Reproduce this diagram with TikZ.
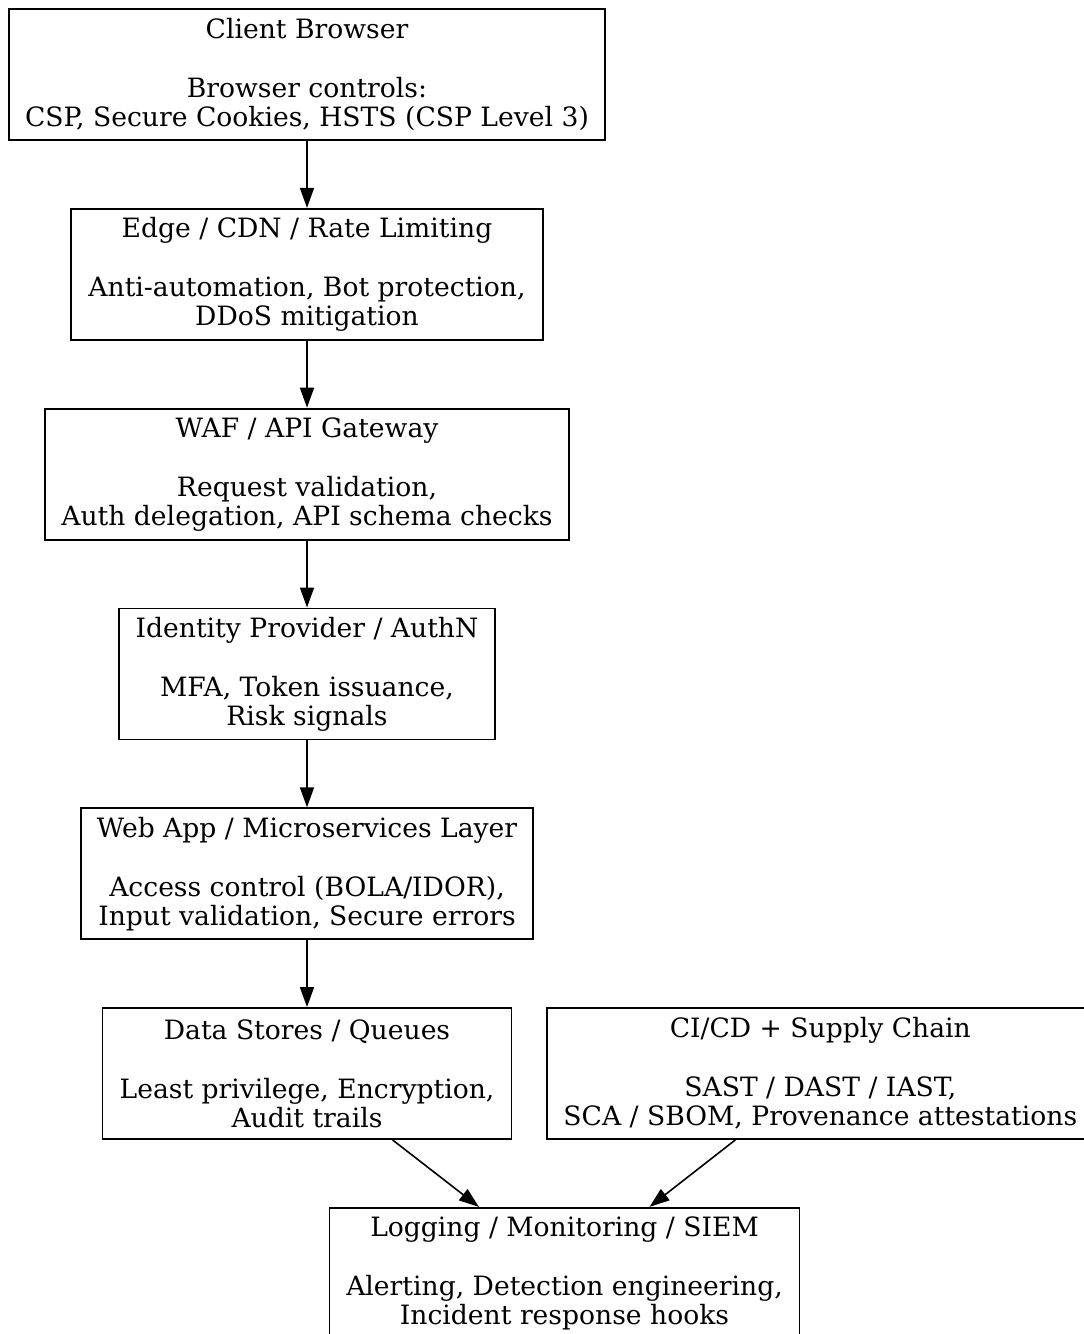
\documentclass[tikz,border=0pt]{standalone}
\usepackage{fontspec}
\setmainfont{DejaVu Serif}
\usetikzlibrary{positioning,arrows.meta}

\begin{document}
\begin{tikzpicture}[
% first : the style of the scheme
    box/.style={
        rectangle,
        draw,
        line width=1.8pt,
        align=center,
        inner ysep=0pt,
        font=\fontsize{26.6}{29}\selectfont,
        minimum height=131pt
    },
    link/.style={->, line width=1.6pt},
    >={Triangle[length=20pt,width=14pt]},
    node distance=67pt
]
\useasboundingbox (0,0) rectangle (1084pt,-1334pt);

% layers + text
\node[box, minimum width=596pt] (client) at (307pt,-74.5pt)
    {Client Browser\\[30pt]Browser controls:\\CSP, Secure Cookies, HSTS (CSP Level 3)};
\node[box, minimum width=472pt, below=of client] (edge)
    {Edge / CDN / Rate Limiting\\[30pt]Anti-automation, Bot protection,\\DDoS mitigation};
\node[box, minimum width=524pt, below=of edge] (waf)
    {WAF / API Gateway\\[30pt]Request validation,\\Auth delegation, API schema checks};
\node[box, minimum width=376pt, below=of waf] (idp)
    {Identity Provider / AuthN\\[30pt]MFA, Token issuance,\\Risk signals};
\node[box, minimum width=452pt, below=of idp] (app)
    {Web App / Microservices Layer\\[30pt]Access control (BOLA/IDOR),\\Input validation, Secure errors};
\node[box, minimum width=409pt, below=of app] (data)
    {Data Stores / Queues\\[30pt]Least privilege, Encryption,\\Audit trails};
\node[box, minimum width=546pt, right=34pt of data] (cicd)
    {CI/CD + Supply Chain\\[30pt]SAST / DAST / IAST,\\SCA / SBOM, Provenance attestations};
\node[box, minimum width=470pt, below=of data, xshift=257.5pt] (siem)
    {Logging / Monitoring / SIEM\\[30pt]Alerting, Detection engineering,\\Incident response hooks};

% links
\draw[link] (client) -- (edge);
\draw[link] (edge) -- (waf);
\draw[link] (waf) -- (idp);
\draw[link] (idp) -- (app);
\draw[link] (app) -- (data);
\draw[link] (data) -- (siem);
\draw[link] (cicd) -- (siem);

\end{tikzpicture}
\end{document}
